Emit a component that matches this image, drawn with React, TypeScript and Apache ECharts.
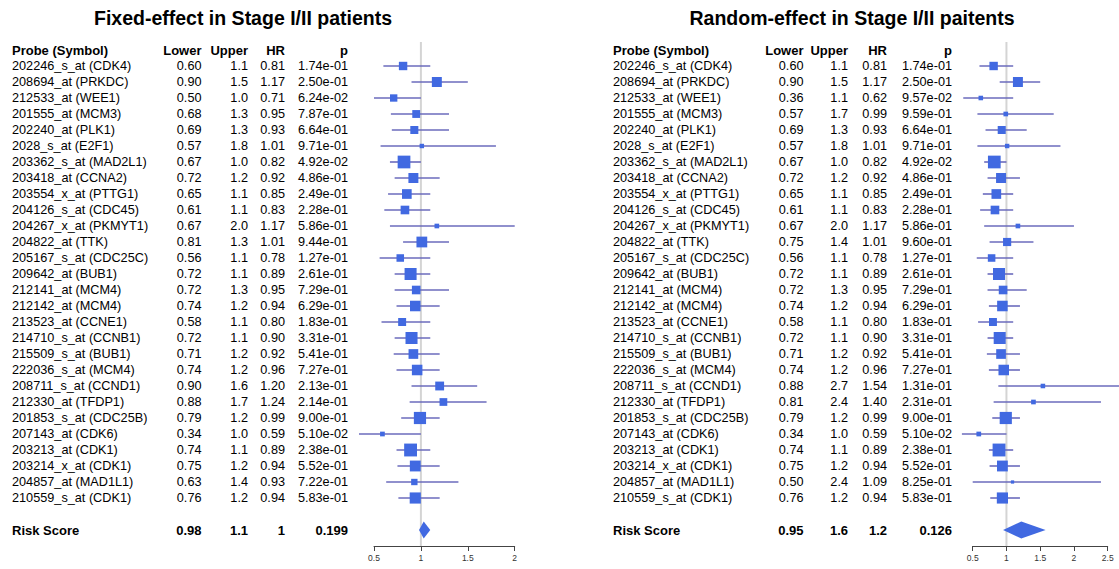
import React, { useEffect, useRef } from "react";
import * as echarts from "echarts";

const probes = [
  "202246_s_at (CDK4)", "208694_at (PRKDC)", "212533_at (WEE1)", "201555_at (MCM3)",
  "202240_at (PLK1)", "2028_s_at (E2F1)", "203362_s_at (MAD2L1)", "203418_at (CCNA2)",
  "203554_x_at (PTTG1)", "204126_s_at (CDC45)", "204267_x_at (PKMYT1)", "204822_at (TTK)",
  "205167_s_at (CDC25C)", "209642_at (BUB1)", "212141_at (MCM4)", "212142_at (MCM4)",
  "213523_at (CCNE1)", "214710_s_at (CCNB1)", "215509_s_at (BUB1)", "222036_s_at (MCM4)",
  "208711_s_at (CCND1)", "212330_at (TFDP1)", "201853_s_at (CDC25B)", "207143_at (CDK6)",
  "203213_at (CDK1)", "203214_x_at (CDK1)", "204857_at (MAD1L1)", "210559_s_at (CDK1)",
];

const fixedLower = [0.60, 0.90, 0.50, 0.68, 0.69, 0.57, 0.67, 0.72, 0.65, 0.61, 0.67, 0.81, 0.56, 0.72, 0.72, 0.74, 0.58, 0.72, 0.71, 0.74, 0.90, 0.88, 0.79, 0.34, 0.74, 0.75, 0.63, 0.76];
const fixedUpper = [1.1, 1.5, 1.0, 1.3, 1.3, 1.8, 1.0, 1.2, 1.1, 1.1, 2.0, 1.3, 1.1, 1.1, 1.3, 1.2, 1.1, 1.1, 1.2, 1.2, 1.6, 1.7, 1.2, 1.0, 1.1, 1.2, 1.4, 1.2];
const fixedHR = [0.81, 1.17, 0.71, 0.95, 0.93, 1.01, 0.82, 0.92, 0.85, 0.83, 1.17, 1.01, 0.78, 0.89, 0.95, 0.94, 0.80, 0.90, 0.92, 0.96, 1.20, 1.24, 0.99, 0.59, 0.89, 0.94, 0.93, 0.94];
const fixedP = [0.174, 0.250, 0.0624, 0.787, 0.664, 0.971, 0.0492, 0.486, 0.249, 0.228, 0.586, 0.944, 0.127, 0.261, 0.729, 0.629, 0.183, 0.331, 0.541, 0.727, 0.213, 0.214, 0.900, 0.0510, 0.238, 0.552, 0.722, 0.583];

const randomLower = [0.60, 0.90, 0.36, 0.57, 0.69, 0.57, 0.67, 0.72, 0.65, 0.61, 0.67, 0.75, 0.56, 0.72, 0.72, 0.74, 0.58, 0.72, 0.71, 0.74, 0.88, 0.81, 0.79, 0.34, 0.74, 0.75, 0.50, 0.76];
const randomUpper = [1.1, 1.5, 1.1, 1.7, 1.3, 1.8, 1.0, 1.2, 1.1, 1.1, 2.0, 1.4, 1.1, 1.1, 1.3, 1.2, 1.1, 1.1, 1.2, 1.2, 2.7, 2.4, 1.2, 1.0, 1.1, 1.2, 2.4, 1.2];
const randomHR = [0.81, 1.17, 0.62, 0.99, 0.93, 1.01, 0.82, 0.92, 0.85, 0.83, 1.17, 1.01, 0.78, 0.89, 0.95, 0.94, 0.80, 0.90, 0.92, 0.96, 1.54, 1.40, 0.99, 0.59, 0.89, 0.94, 1.09, 0.94];
const randomP = [0.174, 0.250, 0.0957, 0.959, 0.664, 0.971, 0.0492, 0.486, 0.249, 0.228, 0.586, 0.960, 0.127, 0.261, 0.729, 0.629, 0.183, 0.331, 0.541, 0.727, 0.131, 0.231, 0.900, 0.0510, 0.238, 0.552, 0.825, 0.583];

// Risk score summary: [lower, upper, HR, p]
const fixedRisk = [0.98, 1.1, 1.03, 0.199];
const randomRisk = [0.95, 1.58, 1.22, 0.126];

const headers = ["Probe (Symbol)", "Lower", "Upper", "HR", "p"];
const riskLabel = "Risk Score";
const titles = ["Fixed-effect in Stage I/II patients", "Random-effect in Stage I/II paitents"];
const xTicksLeft = { min: 0.5, max: 2, interval: 0.5 };
const xTicksRight = { min: 0.5, max: 2.5, interval: 0.5 };

const FONT = '"Liberation Sans", Arial, Helvetica, sans-serif';
const RISK_ROW = probes.length + 1;

function fmtP(v: number) {
  const s = v.toExponential(2);
  const [m, e] = s.split("e");
  const sign = e[0] === "-" ? "-" : "+";
  const num = e.replace(/[+-]/, "");
  return `${m}e${sign}${num.padStart(2, "0")}`;
}
function sig(v: number, n: number) {
  return String(parseFloat(v.toPrecision(n)));
}

function buildPanel(
  idx: number,
  lower: number[],
  upper: number[],
  hr: number[],
  p: number[],
  risk: number[],
  cols: number[]
) {
  const rowsText: string[][] = [headers];
  probes.forEach((name, i) => {
    rowsText.push([name, lower[i].toFixed(2), upper[i].toFixed(1), hr[i].toFixed(2), fmtP(p[i])]);
  });
  rowsText.push([riskLabel, sig(risk[0], 2), sig(risk[1], 2), sig(risk[2], 2), sig(risk[3], 3)]);
  const rowIdx: number[] = [-1, ...probes.map((_, i) => i), RISK_ROW];

  const tableSeries = {
    type: "custom",
    xAxisIndex: idx,
    yAxisIndex: idx,
    clip: false,
    silent: true,
    z: 5,
    data: rowIdx.map((r) => [1, r]),
    renderItem: (params: any, api: any) => {
      const di = params.dataIndex;
      const r = api.value(1);
      const y = api.coord([1, r])[1];
      const bold = di === 0 || di === rowsText.length - 1;
      const texts = rowsText[di];
      return {
        type: "group",
        children: texts.map((t, c) => ({
          type: "text",
          x: cols[c],
          y: y,
          style: {
            text: t,
            fill: "#000",
            fontSize: bold ? 13 : 12.7,
            fontWeight: bold ? "bold" : "normal",
            fontFamily: FONT,
            align: c === 0 ? "left" : "right",
            verticalAlign: "middle",
          },
        })),
      };
    },
  };

  const forestSeries = {
    type: "custom",
    xAxisIndex: idx,
    yAxisIndex: idx,
    clip: false,
    silent: true,
    z: 3,
    data: probes.map((_, i) => [lower[i], upper[i], hr[i], i]),
    renderItem: (params: any, api: any) => {
      const lo = api.value(0);
      const up = api.value(1);
      const h = api.value(2);
      const r = api.value(3);
      const p1 = api.coord([lo, r]);
      const p2 = api.coord([up, r]);
      const c = api.coord([h, r]);
      const s = (1.3 * 3.92) / Math.log(up / lo);
      return {
        type: "group",
        children: [
          {
            type: "line",
            shape: { x1: p1[0], y1: p1[1], x2: p2[0], y2: p2[1] },
            style: { stroke: "#6b6bbd", lineWidth: 1.6 },
          },
          {
            type: "rect",
            shape: { x: c[0] - s / 2, y: c[1] - s / 2, width: s, height: s },
            style: { fill: "#4169E1" },
          },
        ],
      };
    },
  };

  const diamondSeries = {
    type: "custom",
    xAxisIndex: idx,
    yAxisIndex: idx,
    clip: false,
    silent: true,
    z: 4,
    data: [[risk[0], risk[1], risk[2], RISK_ROW]],
    renderItem: (params: any, api: any) => {
      const r = api.value(3);
      const p1 = api.coord([api.value(0), r]);
      const p2 = api.coord([api.value(1), r]);
      const c = api.coord([api.value(2), r]);
      const hh = 8.5;
      return {
        type: "polygon",
        shape: {
          points: [
            [p1[0], c[1]],
            [c[0], c[1] - hh],
            [p2[0], c[1]],
            [c[0], c[1] + hh],
          ],
        },
        style: { fill: "#4169E1" },
      };
    },
  };

  const refLine = {
    type: "line",
    xAxisIndex: idx,
    yAxisIndex: idx,
    data: [[1, -1.5], [1, 30]],
    symbol: "none",
    silent: true,
    z: 1,
    lineStyle: { color: "#d4d4d4", width: 2 },
  };

  return [refLine, forestSeries, diamondSeries, tableSeries];
}

export default function App() {
  const ref = useRef<HTMLDivElement>(null);
  useEffect(() => {
    if (!ref.current) return;
    const chart = echarts.init(ref.current, undefined, { renderer: "svg" });
    const axisCommon = {
      type: "value",
      splitLine: { show: false },
      axisLine: { show: true, onZero: false, lineStyle: { color: "#444", width: 1 } },
      axisTick: { show: true, length: 5, lineStyle: { color: "#444" } },
      axisLabel: { fontSize: 8.5, color: "#333", fontFamily: FONT, margin: 7 },
    };
    const yCommon = { type: "value", min: -1.5, max: 30, inverse: true, show: false };
    chart.setOption({
      animation: false,
      backgroundColor: "#fff",
      grid: [
        { left: 374, width: 140.7, top: 42, height: 504 },
        { left: 972.7, width: 135, top: 42, height: 504 },
      ],
      xAxis: [
        { ...axisCommon, gridIndex: 0, ...xTicksLeft },
        { ...axisCommon, gridIndex: 1, ...xTicksRight },
      ],
      yAxis: [
        { ...yCommon, gridIndex: 0 },
        { ...yCommon, gridIndex: 1 },
      ],
      graphic: [
        {
          type: "text",
          x: 243,
          y: 18,
          style: {
            text: titles[0],
            fill: "#000",
            fontSize: 19.5,
            fontWeight: "bold",
            fontFamily: FONT,
            align: "center",
            verticalAlign: "middle",
          },
        },
        {
          type: "text",
          x: 852,
          y: 18,
          style: {
            text: titles[1],
            fill: "#000",
            fontSize: 19.5,
            fontWeight: "bold",
            fontFamily: FONT,
            align: "center",
            verticalAlign: "middle",
          },
        },
      ],
      series: [
        ...buildPanel(0, fixedLower, fixedUpper, fixedHR, fixedP, fixedRisk, [12, 201.5, 248, 285, 348]),
        ...buildPanel(1, randomLower, randomUpper, randomHR, randomP, randomRisk, [613, 803.5, 848, 887, 952]),
      ],
    });
    return () => chart.dispose();
  }, []);
  return (
    <div
      ref={ref}
      style={{ position: "fixed", left: 0, top: 0, width: 1119, height: 569, background: "#fff" }}
    />
  );
}
